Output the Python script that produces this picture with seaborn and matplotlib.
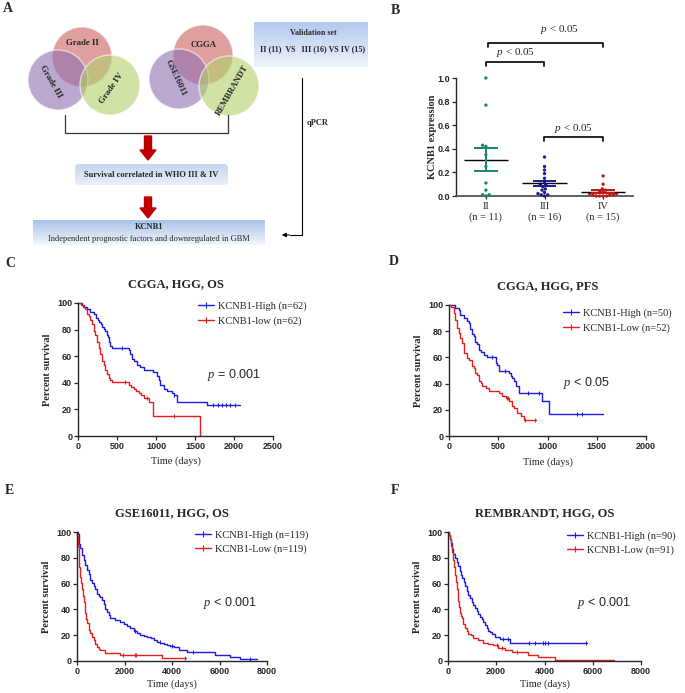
import numpy as np
import pandas as pd
import matplotlib
matplotlib.use('Agg')
import matplotlib.pyplot as plt
import seaborn as sns
from matplotlib.patches import Circle, FancyBboxPatch, FancyArrow
from matplotlib.colors import LinearSegmentedColormap
from matplotlib.lines import Line2D

# ============================================
# DATA
# ============================================
# panel B - qPCR KCNB1 expression per grade
grades = ['II', 'III', 'IV']
grade_ticks = ['II\n(n = 11)', 'III\n(n = 16)', 'IV\n(n = 15)']
expr_ii = [1.0, 0.77, 0.43, 0.42, 0.35, 0.25, 0.11, 0.05, 0.01, 0.01, 0.0]
expr_iii = [0.33, 0.25, 0.22, 0.19, 0.15, 0.12, 0.10, 0.09, 0.08, 0.06, 0.05, 0.03, 0.02, 0.01, 0.01, 0.0]
expr_iv = [0.17, 0.10, 0.06, 0.05, 0.04, 0.03, 0.02, 0.02, 0.01, 0.01, 0.01, 0.0, 0.0, 0.0, 0.0]

# panel C - CGGA, HGG, OS
c_hi_t = [0, 45, 75, 110, 160, 200, 230, 250, 270, 290, 310, 330, 350, 372, 385, 400, 415, 430, 650, 670,
          692, 720, 756, 800, 842, 960, 1013, 1035, 1056, 1100, 1141, 1200, 1226, 1269, 1654, 2075]
c_hi_s = [100, 98.4, 96.8, 95.2, 93.5, 91.9, 88.7, 87.1, 85.5, 83.9, 82.3, 80.6, 79.0, 75.8, 74.2, 71.0, 67.7, 66.1, 64.5, 61.3,
          58.1, 56.5, 53.2, 51.6, 50.0, 48.4, 45.2, 41.9, 38.7, 35.5, 33.9, 32.3, 30.6, 25.8, 23.1, 23.1]
c_hi_cens = [565, 1235, 1730, 1790, 1850, 1900, 1950, 2010]
c_lo_t = [0, 40, 70, 94, 115, 137, 160, 179, 200, 222, 243, 265, 287, 308, 330, 350, 372, 393, 415, 436,
          650, 680, 714, 745, 778, 810, 842, 906, 962, 1560]
c_lo_s = [100, 98.4, 96.8, 95.2, 91.9, 90.3, 87.1, 83.9, 79.0, 75.8, 71.0, 66.1, 61.3, 56.5, 53.2, 50.0, 46.8, 43.5, 41.9, 40.3,
          38.7, 37.1, 35.5, 33.9, 32.3, 30.6, 28.5, 25.8, 15.0, 0]
c_lo_cens = [600, 880, 1225]

# panel D - CGGA, HGG, PFS
d_hi_t = [0, 65, 99, 116, 150, 184, 201, 218, 235, 252, 269, 286, 303, 320, 354, 388, 473, 490, 507, 609,
          626, 643, 660, 677, 711, 949, 1017, 1560]
d_hi_s = [100, 98, 96, 92, 90, 88, 86, 82, 78, 76, 72, 70, 66, 64, 62, 60, 56, 54, 50, 48,
          46, 44, 42, 38, 33, 27, 16.5, 16.5]
d_hi_cens = [440, 570, 800, 910, 1300, 1350]
d_lo_t = [0, 24, 48, 65, 82, 99, 116, 133, 150, 184, 201, 235, 252, 269, 286, 303, 320, 337, 371, 405,
          507, 540, 575, 610, 640, 660, 694, 728, 762, 880]
d_lo_s = [100, 98.1, 94.2, 88.5, 82.7, 78.8, 75.0, 71.2, 63.5, 59.6, 57.7, 53.8, 51.9, 48.1, 46.2, 42.3, 40.4, 38.5, 36.5, 34.6,
          32.7, 30.8, 28.8, 26.9, 23.1, 21.2, 17.3, 15.4, 12.5, 12.5]
d_lo_cens = [585, 600, 770, 875]

# panel E - GSE16011, HGG, OS
e_hi_t = [0, 28, 70, 105, 140, 210, 281, 350, 421, 490, 561, 630, 702, 770, 842, 912, 982, 1050, 1123, 1190,
          1263, 1330, 1404, 1614, 1825, 1960, 2105, 2250, 2386, 2520, 2667, 2800, 2947, 3100, 3228, 3370, 3509, 3650, 3789, 3930,
          4070, 4281, 4632, 5825, 6456, 6877, 7580]
e_hi_s = [100, 98.3, 94.1, 90.8, 87.4, 82.4, 78.2, 74.8, 70.6, 67.2, 63.0, 60.5, 58.0, 55.5, 52.1, 50.4, 49.6, 47.1, 44.5, 40.3,
          37.8, 35.3, 33.6, 31.9, 30.3, 28.6, 26.9, 25.2, 23.5, 21.8, 20.2, 19.3, 18.5, 17.6, 16.0, 15.1, 14.3, 13.4, 12.6, 11.8,
          10.9, 8.4, 6.7, 5.0, 3.4, 1.7, 1.7]
e_hi_cens = [2450, 3500, 4000, 4900, 7300]
e_lo_t = [0, 14, 35, 70, 105, 140, 175, 210, 245, 281, 316, 351, 386, 421, 491, 561, 631, 702, 772, 842,
          912, 982, 1193, 1825, 3579, 4600]
e_lo_s = [100, 96.6, 89.1, 81.5, 73.1, 65.5, 60.5, 55.5, 50.4, 45.4, 41.2, 37.0, 32.8, 29.4, 24.4, 21.4, 18.5, 16.0, 13.4, 11.0,
          9.3, 8.4, 6.0, 4.6, 2.0, 2.0]
e_lo_cens = [1950, 2450, 2500, 4550]

# panel F - REMBRANDT, HGG, OS
f_hi_t = [0, 42, 85, 125, 175, 221, 290, 360, 430, 498, 545, 595, 650, 706, 775, 844, 914, 983, 1052, 1121,
          1190, 1260, 1330, 1398, 1467, 1536, 1605, 1675, 1744, 1813, 1952, 2159, 2574, 5750]
f_hi_s = [100, 97.8, 94.4, 91.1, 86.7, 83.3, 80.0, 76.7, 73.3, 70.0, 66.7, 64.4, 61.1, 57.8, 54.4, 51.1, 48.9, 45.6, 43.3, 41.1,
          38.9, 36.7, 34.4, 32.2, 30.0, 27.8, 25.6, 23.3, 22.2, 21.1, 18.9, 16.7, 13.7, 13.7]
f_hi_cens = [2300, 2480, 3350, 3620, 3950, 4000, 4130, 5700]
f_lo_t = [0, 42, 85, 125, 175, 221, 256, 291, 325, 360, 394, 429, 463, 498, 533, 567, 637, 706, 775, 844,
          948, 1052, 1260, 1467, 1675, 1882, 2090, 2367, 2644, 3336, 3751, 4450, 6900]
f_lo_s = [100, 97.8, 94.5, 89.0, 84.6, 78.0, 72.5, 67.0, 61.5, 56.0, 51.6, 46.2, 41.8, 37.4, 35.2, 33.0, 28.6, 25.3, 23.1, 20.9,
          19.8, 17.6, 16.5, 14.3, 13.2, 12.1, 9.9, 8.8, 6.6, 4.4, 3.3, 1.1, 1.1]
f_lo_cens = [2050, 2250, 2850]

# ============================================
# STYLE
# ============================================
sns.set_style('ticks')
plt.rcParams['font.family'] = ['Liberation Serif', 'DejaVu Serif']
plt.rcParams['mathtext.fontset'] = 'custom'
plt.rcParams['mathtext.it'] = 'Liberation Serif:italic'
plt.rcParams['mathtext.rm'] = 'Liberation Serif'
SANS = 'Liberation Sans'
SERIF = 'Liberation Serif'
BLUE = '#1c1ce0'
RED = '#e81e1e'
TICK_SIZE = 6.5

W, H = 685, 693
fig = plt.figure(figsize=(W / 100, H / 100), dpi=100)


def add_ax(left, top, right, bottom):
    return fig.add_axes([left / W, 1 - bottom / H, (right - left) / W, (bottom - top) / H])


def ftext(x, y, s, **kw):
    return fig.text(x / W, 1 - y / H, s, **kw)


# ============================================
# PANEL A - workflow diagram (pixel coordinates)
# ============================================
ax_a = add_ax(0, 0, 385, 255)
ax_a.set_axis_off()


def grad_box(x0, y0, w, h, c_top, c_bot, rs=0.0):
    grad = np.linspace(0, 1, 64).reshape(-1, 1)
    cmap = LinearSegmentedColormap.from_list('g', [c_top, c_bot])
    im = ax_a.imshow(grad, extent=(x0, x0 + w, y0 + h, y0), cmap=cmap, aspect='auto', zorder=1)
    patch = FancyBboxPatch((x0, y0), w, h, boxstyle=f'round,pad=0,rounding_size={rs}',
                           fc='none', ec='none', transform=ax_a.transData)
    ax_a.add_patch(patch)
    im.set_clip_path(patch)


venn_cols = ['#cc5f5f', '#8f6fb0', '#b3d06a']
for centers in [[(82, 57), (58, 80), (110, 85)], [(203, 55), (179, 79), (229, 86)]]:
    for (cx, cy), col in zip(centers, venn_cols):
        ax_a.add_patch(Circle((cx, cy), 30, fc=col, alpha=0.6, ec='white', lw=1.0, zorder=2))

vkw = dict(fontsize=6.3, fontweight='bold', ha='center', va='center', zorder=5)
ax_a.text(82, 43, 'Grade II', **vkw)
ax_a.text(51, 82, 'Grade III', rotation=-60, **vkw)
ax_a.text(112, 88, 'Grade IV', rotation=55, **vkw)
ax_a.text(204, 45, 'CGGA', **vkw)
ax_a.text(176, 78, 'GSE16011', rotation=-65, **vkw)
ax_a.text(232, 90, 'REMBRANDT', rotation=60, **vkw)

# bracket joining the two venns
ax_a.plot([65, 65, 228, 228], [115, 133, 133, 115], color='#333333', lw=0.9, zorder=3)

# red arrows
for y0, y1 in [(136, 160), (197, 218)]:
    ax_a.add_patch(FancyArrow(148, y0, 0, y1 - y0, width=7, head_width=16, head_length=10,
                              length_includes_head=True, color='#c00000', zorder=4))

grad_box(75, 164, 153, 21, '#c6d6f0', '#eaf0fa', rs=4)
ax_a.text(151, 175, 'Survival correlated in WHO III & IV', fontsize=6, fontweight='bold',
          ha='center', va='center', zorder=5)

grad_box(33, 220, 232, 25, '#a9c3ea', '#f4f7fc')
ax_a.text(149, 227, 'KCNB1', fontsize=6, fontweight='bold', ha='center', va='center', zorder=5)
ax_a.text(149, 239, 'Independent prognostic factors and downregulated in GBM', fontsize=6,
          ha='center', va='center', zorder=5)

grad_box(254, 22, 114, 45, '#b2c9ee', '#eef3fb')
ax_a.text(313, 33, 'Validation set', fontsize=5.8, fontweight='bold', ha='center', va='center', zorder=5)
ax_a.text(313, 49, 'II (11)  VS   III (16) VS IV (15)', fontsize=5.8, fontweight='bold',
          ha='center', va='center', zorder=5)

# qPCR connector
ax_a.plot([302, 302, 290], [78, 235, 235], color='black', lw=0.8, zorder=3)
ax_a.annotate('', xy=(279, 235), xytext=(292, 235),
              arrowprops=dict(arrowstyle='-|>', lw=0.8, color='black', mutation_scale=6))
ax_a.text(307, 123, 'qPCR', fontsize=6, fontweight='bold', ha='left', va='center')
ax_a.set_xlim(0, 385)
ax_a.set_ylim(255, 0)

# ============================================
# PANEL B - qPCR swarm
# ============================================
b_rect = (456, 78, 633, 196)
ax_b = add_ax(*b_rect)
df_b = pd.DataFrame({
    'grade': ['II'] * len(expr_ii) + ['III'] * len(expr_iii) + ['IV'] * len(expr_iv),
    'value': expr_ii + expr_iii + expr_iv,
})
b_pal = {'II': '#16866a', 'III': '#1a1a8c', 'IV': '#c01818'}
ax_b.set_ylim(0, 1.0)
sns.swarmplot(data=df_b, x='grade', y='value', hue='grade', palette=b_pal, size=2.4,
              legend=False, ax=ax_b, clip_on=False, zorder=3)

for i, (g, vals) in enumerate(zip(grades, [expr_ii, expr_iii, expr_iv])):
    v = np.array(vals)
    m = v.mean()
    se = v.std(ddof=1) / np.sqrt(len(v))
    ax_b.hlines(m, i - 0.38, i + 0.38, color='black', lw=1.0, zorder=4)
    ax_b.vlines(i, m - se, m + se, color=b_pal[g], lw=1.4, zorder=4)
    ax_b.hlines([m - se, m + se], i - 0.2, i + 0.2, color=b_pal[g], lw=1.4, zorder=4)


def bracket(x1, x2, y, txt_x, txt_y, h=0.035):
    ax_b.plot([x1, x1, x2, x2], [y - h, y, y, y - h], color='black', lw=1.2, clip_on=False)
    ax_b.text(txt_x, txt_y, r'$p$ < 0.05', fontsize=8, family=SERIF, ha='center', va='center')


bracket(0.03, 2.0, 1.30, 1.26, 1.41)
bracket(0.0, 0.99, 1.135, 0.5, 1.22)
bracket(0.99, 2.0, 0.50, 1.49, 0.575)

ax_b.set_xlim(-0.51, 2.51)
ax_b.set_ylim(0, 1.0)
ax_b.set_yticks([0, 0.2, 0.4, 0.6, 0.8, 1.0])
ax_b.set_yticklabels(['0.0', '0.2', '0.4', '0.6', '0.8', '1.0'])
ax_b.set_xticks([0, 1, 2])
ax_b.set_xticklabels(grade_ticks, fontsize=7.5, family=SERIF)
ax_b.tick_params(axis='y', labelsize=TICK_SIZE, length=3, width=0.9, direction='out', pad=1.2)
ax_b.tick_params(axis='x', length=2.5, width=0.9, direction='out', pad=2)
for lab in ax_b.get_yticklabels():
    lab.set_fontfamily(SANS)
    lab.set_fontweight('bold')
ax_b.set_xlabel('')
ax_b.set_ylabel('KCNB1 expression', fontsize=7.5, fontweight='bold')
ax_b.yaxis.set_label_coords((437 - b_rect[0]) / (b_rect[2] - b_rect[0]), 0.5)
sns.despine(ax=ax_b)
ax_b.spines['left'].set_linewidth(1.0)
ax_b.spines['bottom'].set_linewidth(1.3)
ax_b.spines['bottom'].set_color('#555555')


# ============================================
# PANELS C-F - Kaplan-Meier curves
# ============================================
def km_panel(rect, curves, labels, xmax, xticks, title, ptxt, leg_xy, lspace, p_xy, xlab_y):
    left, top, right, bottom = rect
    ax = add_ax(*rect)
    for (t, s, cens), col in zip(curves, [BLUE, RED]):
        sns.lineplot(x=t, y=s, drawstyle='steps-post', color=col, lw=1.0, estimator=None,
                     sort=False, ax=ax, clip_on=False)
        t_arr, s_arr = np.array(t), np.array(s)
        cy = s_arr[np.searchsorted(t_arr, cens, side='right') - 1]
        ax.plot(cens, cy, ls='none', marker='|', ms=3.5, mew=0.8, color=col, clip_on=False)
    ax.set_xlim(0, xmax)
    ax.set_ylim(0, 100)
    ax.set_xticks(xticks)
    ax.set_yticks([0, 20, 40, 60, 80, 100])
    ax.tick_params(labelsize=TICK_SIZE, length=3, width=0.9, direction='out', pad=1.2)
    for lab in ax.get_xticklabels() + ax.get_yticklabels():
        lab.set_fontfamily(SANS)
        lab.set_fontweight('bold')
    sns.despine(ax=ax)
    for sp in ['left', 'bottom']:
        ax.spines[sp].set_linewidth(1.0)
    ax.set_ylabel('Percent survival', fontsize=7.5, fontweight='bold')
    ax.yaxis.set_label_coords(-26 / (right - left), 0.5)
    ax.set_xlabel('Time (days)', fontsize=7.5)
    ax.xaxis.set_label_coords(0.5, (bottom - xlab_y) / (bottom - top))
    ftext((left + right) / 2, top - 19, title, fontsize=9, fontweight='bold', ha='center', va='center')
    handles = [Line2D([0], [0], color=c, lw=1.0, marker='|', ms=4, mew=0.8) for c in [BLUE, RED]]
    ax.legend(handles, labels, loc='upper left', bbox_to_anchor=(leg_xy[0] / W, 1 - leg_xy[1] / H),
              bbox_transform=fig.transFigure, frameon=False, prop={'family': SERIF, 'size': 7.5},
              handlelength=1.5, handletextpad=0.45, labelspacing=lspace, borderpad=0, borderaxespad=0)
    ftext(p_xy[0], p_xy[1], ptxt, fontsize=9, family=SANS, ha='left', va='center')
    return ax


km_panel((78, 303, 273, 436),
         [(c_hi_t, c_hi_s, c_hi_cens), (c_lo_t, c_lo_s, c_lo_cens)],
         ['KCNB1-High (n=62)', 'KCNB1-low (n=62)'], 2500, [0, 500, 1000, 1500, 2000, 2500],
         'CGGA, HGG, OS', r'$p$ = 0.001', (198, 301), 0.55, (207, 375), 456)
km_panel((449, 305, 646, 436),
         [(d_hi_t, d_hi_s, d_hi_cens), (d_lo_t, d_lo_s, d_lo_cens)],
         ['KCNB1-High (n=50)', 'KCNB1-Low (n=52)'], 2000, [0, 500, 1000, 1500, 2000],
         'CGGA, HGG, PFS', r'$p$ < 0.05', (563, 308), 0.55, (563, 383), 457)
km_panel((77, 532, 267, 661),
         [(e_hi_t, e_hi_s, e_hi_cens), (e_lo_t, e_lo_s, e_lo_cens)],
         ['KCNB1-High (n=119)', 'KCNB1-Low (n=119)'], 8000, [0, 2000, 4000, 6000, 8000],
         'GSE16011, HGG, OS', r'$p$ < 0.001', (195, 530), 0.45, (203, 603), 679)
km_panel((448, 532, 641, 661),
         [(f_hi_t, f_hi_s, f_hi_cens), (f_lo_t, f_lo_s, f_lo_cens)],
         ['KCNB1-High (n=90)', 'KCNB1-Low (n=91)'], 8000, [0, 2000, 4000, 6000, 8000],
         'REMBRANDT, HGG, OS', r'$p$ < 0.001', (567, 531), 0.45, (577, 603), 679)

# panel letters
for letter, (x, y) in zip('ABCDEF', [(8, 9), (395, 11), (10, 263), (394, 262), (9, 491), (395, 491)]):
    ftext(x, y, letter, fontsize=10, fontweight='bold', ha='center', va='center')

fig.savefig('out.png', dpi=100)
